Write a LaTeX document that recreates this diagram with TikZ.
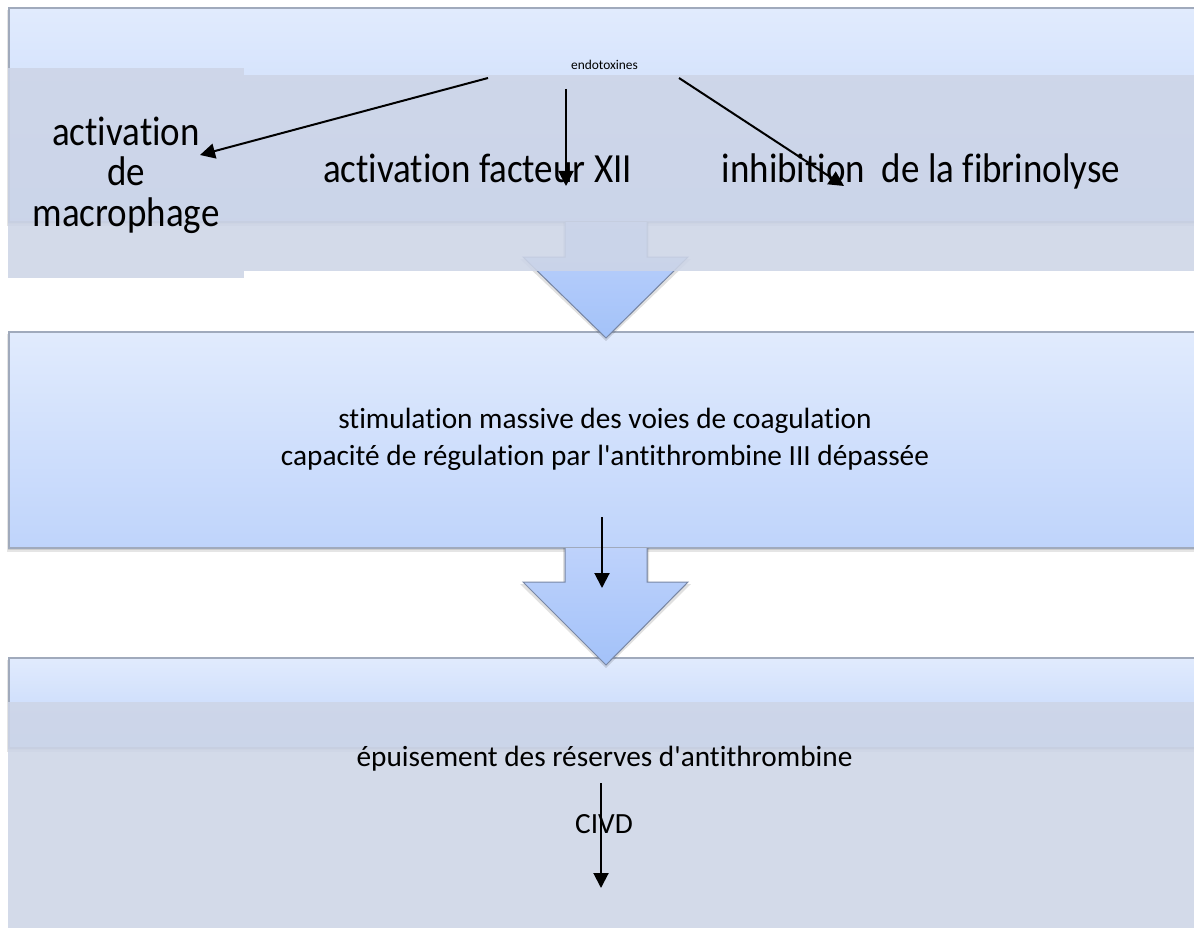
\documentclass[tikz,border=0pt]{standalone}
\usepackage{fontspec}
\setmainfont{Carlito}[Ligatures={TeXOff,NoCommon}]
\usetikzlibrary{arrows.meta}
\definecolor{boxtop}{RGB}{225,235,253}
\definecolor{boxbot}{RGB}{191,212,251}
\definecolor{boxedge}{RGB}{160,170,188}
\definecolor{ovl}{RGB}{205,213,231}
\definecolor{chevtop}{RGB}{190,210,251}
\definecolor{chevbot}{RGB}{163,194,249}
\definecolor{chevedge}{RGB}{120,135,165}
\newcommand{\tallish}[1]{\scalebox{1}[1.12]{#1}}
\tikzset{
  panel/.style={top color=boxtop,bottom color=boxbot,draw=boxedge,line width=1.3pt},
  panelshadow/.style={fill=black,opacity=0.10},
  ovlbox/.style={fill=ovl,fill opacity=0.88},
  chevfill/.style={top color=chevtop,bottom color=chevbot},
  chevline/.style={draw=chevedge,line width=1pt,line join=miter},
  bigtxt/.style={font=\fontsize{37}{40.5}\selectfont,align=center,inner sep=0pt},
  midtxt/.style={font=\fontsize{29.3}{37}\selectfont,align=center,inner sep=0pt},
  tinytxt/.style={font=\fontsize{13.4}{16}\selectfont,inner sep=0pt},
  arr/.style={line width=2pt,-{Triangle[length=15pt,width=15pt]}},
}
\begin{document}
\begin{tikzpicture}[x=1pt,y=-1pt]
\useasboundingbox (0,0) rectangle (1194,928);
\clip (0,0) rectangle (1194,928);
\fill[white] (0,0) rectangle (1194,928);
% box shadows
\foreach \t/\b in {8/222, 332/548, 658/748}{
  \fill[panelshadow] (7,\t+2) rectangle (1200,\b+4);
  \fill[panelshadow] (8,\t+1) rectangle (1200,\b+2);
}
% boxes
\draw[panel] (9,8) rectangle (1210,222);
\draw[panel] (9,332) rectangle (1210,548);
\draw[panel] (9,658) rectangle (1210,748);
% chevrons
\foreach \t/\w/\p in {222/257/338, 548/582/665}{
  \fill[black,opacity=0.12] (563,\t) -- (563,\w+2) -- (520,\w+2) -- (606,\p+3) -- (691,\w+2) -- (649,\w+2) -- (649,\t) -- cycle;
  \fill[chevfill] (565,\t) -- (565,\w) -- (523,\w) -- (606,\p) -- (688,\w) -- (647,\w) -- (647,\t) -- cycle;
  \draw[chevline] (565,\t) -- (565,\w) -- (523,\w) -- (606,\p) -- (688,\w) -- (647,\w) -- (647,\t);
}
% translucent overlays
\fill[ovlbox] (244,75) rectangle (1200,271);
\fill[ovlbox] (8,68) rectangle (244,278);
\fill[ovlbox] (8,702) rectangle (1200,940);
% texts
\node[tinytxt,anchor=base] (endo) at (604.5,70) {endotoxines};
\node[bigtxt] (macro) at (126,175) {\tallish{activation}\\\tallish{de}\\\tallish{macrophage}};
\node[bigtxt,anchor=base] (fxii) at (477.5,183) {\tallish{activation facteur XII}};
\node[bigtxt,anchor=base] (fibri) at (921,183) {\tallish{inhibition\ \ de la fibrinolyse}};
\node[midtxt] (stim) at (605,439) {stimulation massive des voies de coagulation\\capacité de régulation par l'antithrombine III dépassée};
\node[midtxt,anchor=base] (epuis) at (604.5,766) {épuisement des réserves d'antithrombine};
\node[midtxt,anchor=base] (civd) at (604,833) {CIVD};
% arrow end points
\coordinate (a1s) at (488,78);
\coordinate (a1e) at (200,155);
\coordinate (a2s) at (566,89);
\coordinate (a2e) at (566,186);
\coordinate (a3s) at (679,78);
\coordinate (a3e) at (844,186);
\coordinate (a4s) at (602,517);
\coordinate (a4e) at (602,588);
\coordinate (a5s) at (601,783);
\coordinate (a5e) at (601,888);
\draw[arr] (a1s) -- (a1e);
\draw[arr] (a2s) -- (a2e);
\draw[arr] (a3s) -- (a3e);
\draw[arr] (a4s) -- (a4e);
\draw[arr] (a5s) -- (a5e);
\end{tikzpicture}
\end{document}
